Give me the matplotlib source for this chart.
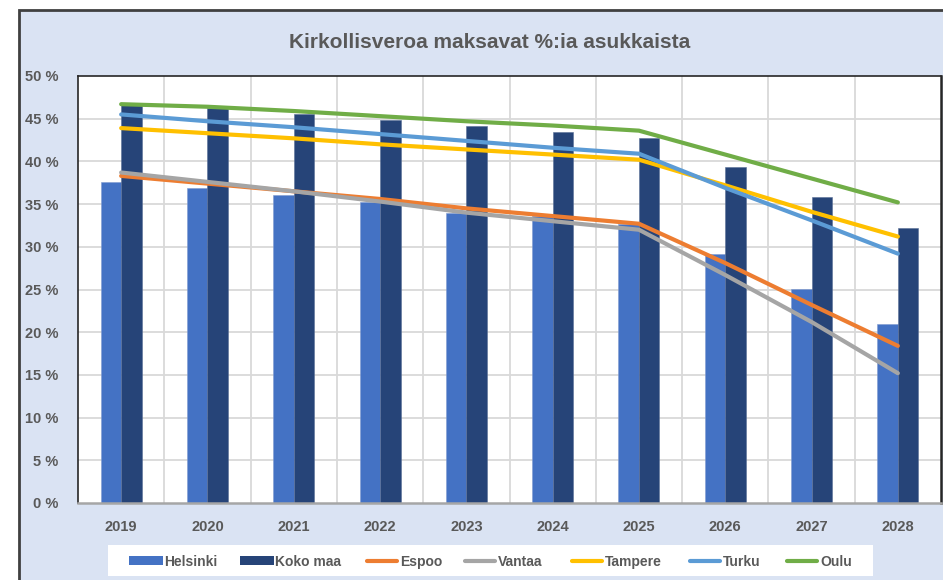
"""Kirkollisveroa maksavat %:ia asukkaista - bar + line chart."""

import numpy as np
import matplotlib
matplotlib.use("Agg")
from matplotlib import pyplot as plt
from matplotlib.patches import Rectangle
from matplotlib.lines import Line2D
from matplotlib.ticker import FuncFormatter, MultipleLocator

#-----------------------------------------------------------------------------
# Data
#-----------------------------------------------------------------------------

years = ["2019", "2020", "2021", "2022", "2023", "2024", "2025", "2026", "2027", "2028"]

helsinki = [37.6, 36.9, 36.1, 35.2, 34.0, 33.6, 32.7, 29.2, 25.1, 21.0]
koko_maa = [46.6, 46.2, 45.5, 44.8, 44.1, 43.4, 42.7, 39.3, 35.8, 32.2]

espoo = [38.3, 37.4, 36.5, 35.6, 34.5, 33.6, 32.7, 28.1, 23.2, 18.4]
vantaa = [38.7, 37.6, 36.5, 35.3, 34.0, 33.0, 32.0, 26.7, 21.2, 15.2]
tampere = [43.9, 43.3, 42.7, 42.0, 41.4, 40.8, 40.2, 37.2, 34.1, 31.2]
turku = [45.5, 44.7, 44.0, 43.2, 42.4, 41.6, 40.9, 36.9, 33.1, 29.2]
oulu = [46.7, 46.4, 45.9, 45.3, 44.7, 44.2, 43.6, 40.8, 38.0, 35.2]

title = "Kirkollisveroa maksavat %:ia asukkaista"

#-----------------------------------------------------------------------------
# Styling
#-----------------------------------------------------------------------------

plt.rcParams['font.family'] = ['Liberation Sans', 'DejaVu Sans']
plt.rcParams['font.weight'] = 'bold'

bg = '#DAE3F3'
txt = '#595959'
grid_col = '#D9D9D9'

bar_series = [('Helsinki', helsinki, '#4472C4', '#7F9BD0'),
              ('Koko maa', koko_maa, '#264478', '#5A6F96')]
line_series = [('Espoo', espoo, '#ED7D31'),
               ('Vantaa', vantaa, '#A5A5A5'),
               ('Tampere', tampere, '#FFC000'),
               ('Turku', turku, '#5B9BD5'),
               ('Oulu', oulu, '#70AD47')]

W, H = 943, 580
fig = plt.figure(figsize=(W / 100, H / 100), dpi=100)
fig.patch.set_facecolor('white')

# outer chart box (continues past the right and bottom edges)
fig.add_artist(Rectangle((19 / W, -0.1), 1.2, 1.1 - 10 / H,
                         transform=fig.transFigure, facecolor=bg,
                         edgecolor='#404040', linewidth=2, zorder=0))

# plot area
ax = fig.add_axes([78 / W, 1 - 503 / H, (941 - 78) / W, (503 - 76) / H])
ax.set_facecolor('white')

x = np.arange(len(years))
bw = 0.237
for i, (name, vals, col, edge) in enumerate(bar_series):
    ax.bar(x + (i - 0.5) * bw, vals, width=bw, color=col,
           edgecolor=edge, linewidth=0.4, zorder=2)

for name, vals, col in line_series:
    ax.plot(x, vals, color=col, linewidth=3, solid_capstyle='round',
            solid_joinstyle='round', zorder=3)

ax.set_xlim(-0.5, len(years) - 0.5)
ax.set_ylim(0, 50)
ax.yaxis.set_major_locator(MultipleLocator(5))
ax.yaxis.set_major_formatter(FuncFormatter(lambda v, p: '%d %%' % v))
ax.set_xticks(x)
ax.set_xticklabels(years)

# gridlines: horizontal at every 5 %, vertical at category boundaries
for yv in np.arange(5, 50, 5):
    ax.axhline(yv, color=grid_col, linewidth=1.3, zorder=1)
for xv in np.arange(0.5, len(years) - 0.5, 1):
    ax.axvline(xv, color=grid_col, linewidth=1.3, zorder=1)

ax.tick_params(axis='both', length=0, colors=txt, labelsize=10.5)
ax.tick_params(axis='y', pad=14)
ax.tick_params(axis='x', pad=12)
for lab in ax.get_xticklabels() + ax.get_yticklabels():
    lab.set_fontweight('bold')

for side in ('left', 'top', 'right'):
    ax.spines[side].set_color('#262626')
    ax.spines[side].set_linewidth(1.2)
ax.spines['right'].set_linewidth(1.8)
ax.spines['bottom'].set_color('#A6A6A6')
ax.spines['bottom'].set_linewidth(1.8)

fig.text(490 / W, 1 - 42 / H, title, ha='center', va='center',
         fontsize=15, fontweight='bold', color=txt)

#-----------------------------------------------------------------------------
# Legend, drawn by hand on a white box (pixel layout taken from reference)
#-----------------------------------------------------------------------------

fig.add_artist(Rectangle((108 / W, 1 - 576 / H), (873 - 108) / W, 31 / H,
                         transform=fig.transFigure, facecolor='white',
                         edgecolor='none', zorder=1))

leg_y = 1 - 560.5 / H
leg_x0 = [129, 240, 365, 463, 570, 688, 785]
hlen = 34

entries = [(n, c, 'bar') for n, v, c, e in bar_series] + \
          [(n, c, 'line') for n, v, c in line_series]
for x0, (name, col, kind) in zip(leg_x0, entries):
    if kind == 'bar':
        fig.add_artist(Rectangle((x0 / W, leg_y - 4.5 / H), hlen / W, 9 / H,
                                 transform=fig.transFigure, facecolor=col,
                                 edgecolor='none', zorder=2))
    else:
        fig.add_artist(Line2D([(x0 + 2) / W, (x0 + hlen - 2) / W], [leg_y, leg_y],
                              transform=fig.transFigure, color=col,
                              linewidth=3, solid_capstyle='round', zorder=2))
    fig.text((x0 + hlen + 1) / W, leg_y, name, ha='left', va='center_baseline',
             fontsize=10, fontweight='bold', color=txt, zorder=3)

fig.savefig('out.png', dpi=100, facecolor=fig.get_facecolor())
